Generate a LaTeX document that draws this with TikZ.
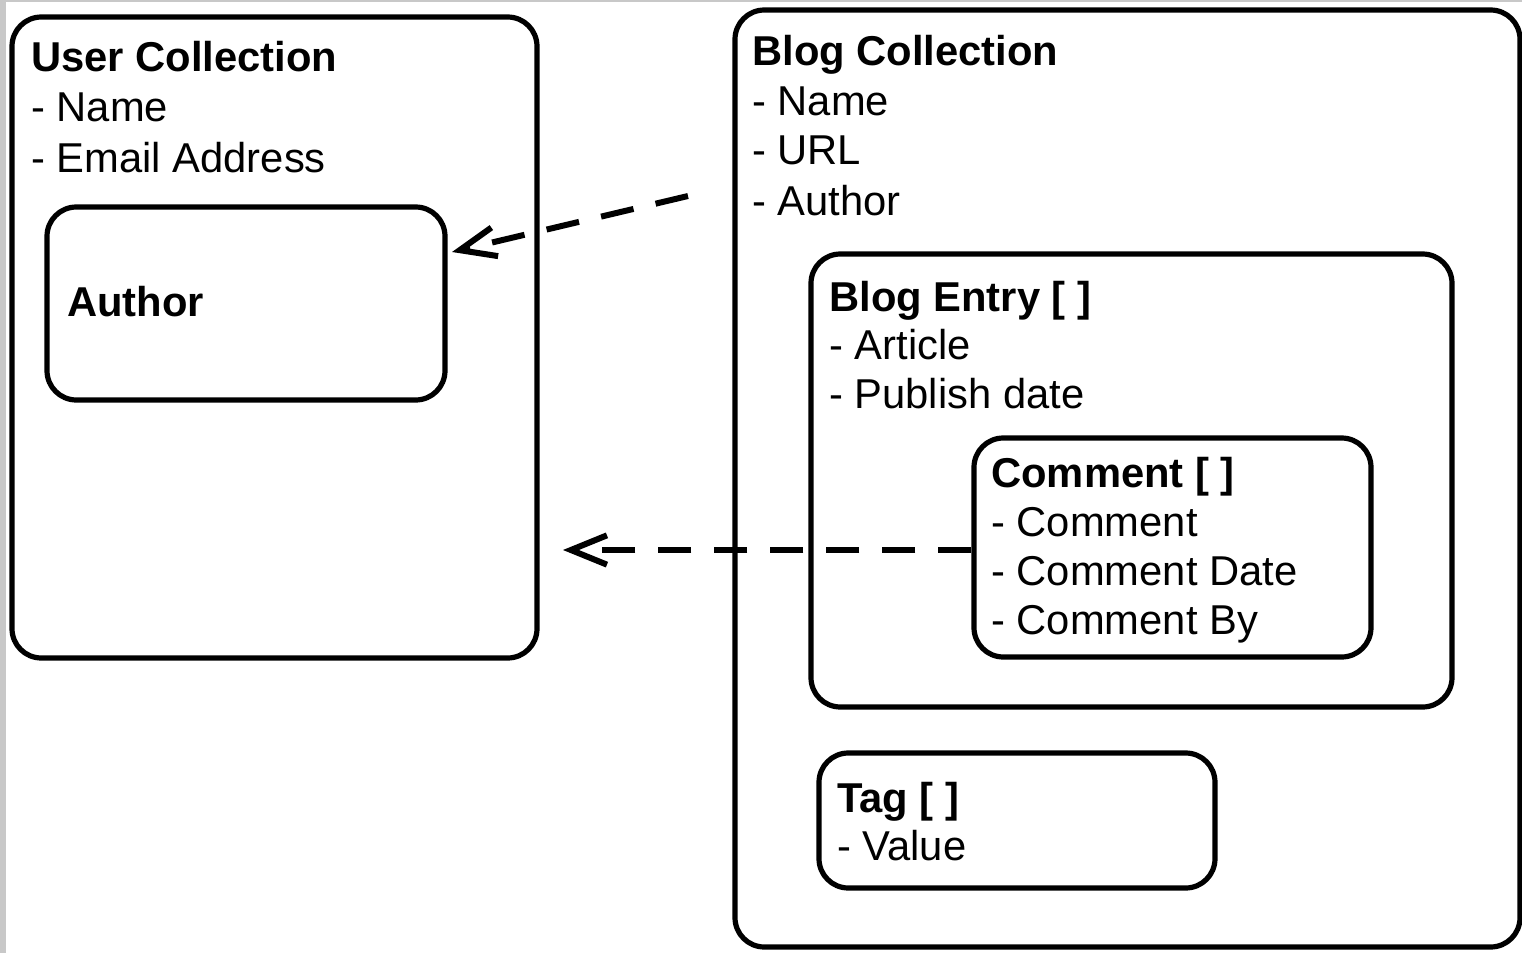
\documentclass[tikz,border=0pt]{standalone}
\usepackage{fontspec}
\setmainfont{Liberation Sans}
\usetikzlibrary{arrows.meta,fit}
\definecolor{framegray}{RGB}{200,200,200}
\tikzset{
  box/.style={draw=black, line width=3.9pt, rounded corners=22pt, inner sep=0pt},
  ttl/.style={anchor=base west, inner sep=0pt, font=\fontsize{31.3pt}{37pt}\selectfont\bfseries},
  itm/.style={anchor=base west, inner sep=0pt, font=\fontsize{31.3pt}{37pt}\selectfont},
  link/.style={draw=black, line width=4.5pt, dash pattern=on 25pt off 17pt,
    -{Straight Barb[length=27pt,width=22pt,line width=4.5pt]}}
}
\begin{document}
\begin{tikzpicture}[x=0.75pt,y=-0.75pt]
\useasboundingbox (0,0) rectangle (1522,953);
\fill[framegray] (0,0) rectangle (1522,953);
\fill[white] (6,2) rectangle (1522,953);
% boxes
\node[box, fit={(12,17) (537,658)}] (user) {};
\node[box, fit={(47,207) (445,400)}] (author) {};
\node[box, fit={(735,10) (1520,947)}] (blog) {};
\node[box, fit={(811,254) (1452,707)}] (entry) {};
\node[box, fit={(974,438) (1371,657)}] (comment) {};
\node[box, fit={(819,753) (1215,888)}] (tag) {};
% texts
\node[ttl] (userT) at (31,71) {User Collection};
\node[itm] (userA) at (31,121) {- Name};
\node[itm] (userB) at (31,172) {- Email Address};
\node[ttl] (authorT) at (67,316) {Author};
\node[ttl] (blogT) at (752,65) {Blog Collection};
\node[itm] (blogA) at (752,115) {- Name};
\node[itm] (blogB) at (752,164) {- URL};
\node[itm] (blogC) at (752,215) {- Author};
\node[ttl] (entryT) at (829,311) {Blog Entry [ ]};
\node[itm] (entryA) at (829,359) {- Article};
\node[itm] (entryB) at (829,408) {- Publish date};
\node[ttl] (commentT) at (991,487) {Comment [ ]};
\node[itm] (commentA) at (991,536) {- Comment};
\node[itm] (commentB) at (991,585) {- Comment Date};
\node[itm] (commentC) at (991,634) {- Comment By};
\node[ttl] (tagT) at (837,812) {Tag [ ]};
\node[itm] (tagA) at (837,860) {- Value};
% connectors
\coordinate (authorRef) at (688,196);
\coordinate (authorIn) at (452,252);
\coordinate (userIn) at (563,550);
\draw[link] (authorRef) -- (authorIn);
\draw[link] (comment.west |- 0,550) -- (userIn);
\end{tikzpicture}
\end{document}
